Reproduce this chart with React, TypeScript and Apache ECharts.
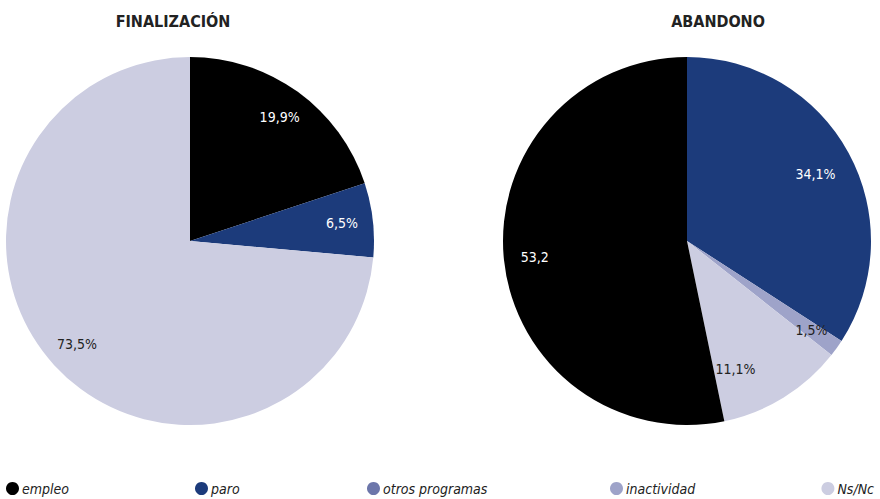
import React, { useEffect, useRef } from "react";
import * as echarts from "echarts";

const categories = ["empleo", "paro", "otros programas", "inactividad", "Ns/Nc"];
const colors = ["#000000", "#1c3b7b", "#6c76aa", "#9ea3c9", "#cccde1"];
const finTitle = "FINALIZACIÓN";
const abaTitle = "ABANDONO";
// Finalización, clockwise from 12 o'clock
const finNames = ["empleo", "paro", "otros programas", "inactividad", "Ns/Nc"];
const finValues = [19.9, 6.5, 0, 0, 73.5];
const finLabels = ["19,9%", "6,5%", "", "", "73,5%"];
// Abandono, clockwise from 12 o'clock
const abaNames = ["paro", "inactividad", "Ns/Nc", "empleo"];
const abaValues = [34.1, 1.5, 11.1, 53.2];
const abaLabels = ["34,1%", "1,5%", "11,1%", "53,2"];

const FONT = "'Liberation Sans Narrow', 'DejaVu Sans Condensed', Roboto, sans-serif";
const legendLefts = [6, 195, 367, 610, 823];

function colorOf(name: string) {
  return colors[categories.indexOf(name)];
}
function textColorOf(name: string) {
  return name === "empleo" || name === "paro" ? "#ffffff" : "#222222";
}

function buildPie(names: string[], values: number[], labels: string[], center: [number, number]) {
  const base = {
    type: "pie",
    center,
    startAngle: 90,
    clockwise: true,
    avoidLabelOverlap: false,
    silent: true,
    labelLine: { show: false },
  };
  return [
    {
      ...base,
      radius: [0, 184],
      label: { show: false },
      itemStyle: { borderWidth: 0 },
      data: names.map((n, i) => ({ name: n, value: values[i], itemStyle: { color: colorOf(n) } })),
    },
    {
      ...base,
      radius: [116, 184],
      itemStyle: { color: "rgba(0,0,0,0)", borderWidth: 0 },
      label: { show: true, position: "inside", fontFamily: FONT, fontSize: 14 },
      data: names.map((n, i) => ({
        name: n,
        value: values[i],
        label: {
          show: labels[i] !== "",
          formatter: labels[i],
          color: textColorOf(n),
          offset: labels[i] === "11,1%" ? [-32, -2] : labels[i] === "34,1%" ? [-6, 6] : [0, 0],
        },
      })),
    },
  ];
}

export default function App() {
  const ref = useRef<HTMLDivElement>(null);
  useEffect(() => {
    document.body.style.margin = "0";
    const chart = echarts.init(ref.current!, null, { renderer: "svg" });
    chart.setOption({
      animation: false,
      backgroundColor: "#ffffff",
      title: [
        { text: finTitle, left: 168, top: 8, textAlign: "center", textStyle: { fontFamily: FONT, fontSize: 16, fontWeight: "bold", color: "#222" } },
        { text: abaTitle, left: 713, top: 8, textAlign: "center", textStyle: { fontFamily: FONT, fontSize: 16, fontWeight: "bold", color: "#222" } },
      ],
      legend: categories.map((c, i) => {
        const pos: any = i === categories.length - 1 ? { right: 6 } : { left: legendLefts[i] };
        return {
          ...pos,
          data: [c],
          top: 481,
          padding: 0,
          icon: "circle",
          itemWidth: 13,
          itemHeight: 13,
          itemGap: 4,
          selectedMode: false,
          textStyle: { fontFamily: FONT, fontSize: 14, lineHeight: 15, fontStyle: "italic", color: "#222", padding: [0, 0, 0, -2] },
        };
      }),
      series: [
        ...buildPie(finNames, finValues, finLabels, [190, 241]),
        ...buildPie(abaNames, abaValues, abaLabels, [687, 241]),
      ],
    });
    return () => chart.dispose();
  }, []);
  return <div ref={ref} style={{ width: 880, height: 499 }} />;
}
